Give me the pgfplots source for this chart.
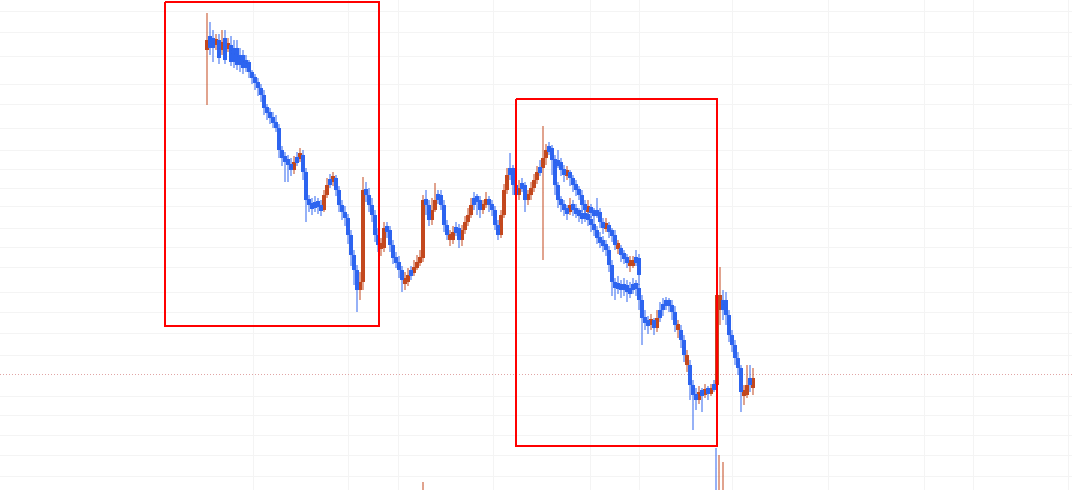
\documentclass[border=0pt]{standalone}
\usepackage{pgfplots}
\usepackage{pgfplotstable}
\pgfplotsset{compat=1.18}
\definecolor{cblue}{RGB}{45,100,240}
\definecolor{cred}{RGB}{195,72,30}
\definecolor{gridc}{RGB}{244,244,244}
\definecolor{dotc}{RGB}{225,165,165}

% candles: x, open, close, low-end (wick bottom), high-end (wick top); y in picture rows
\pgfplotstableread{
x o c l h
210 36 48 55 22
213 48 38 62 30
219 40 58 64 34
225 38 60 64 30
231 45 62 66 36
234 62 48 68 40
237 48 65 70 40
240 65 55 72 48
243 55 68 74 50
246 68 60 72 55
249 62 72 78 60
252 72 78 84 70
255 78 82 90 74
258 82 88 96 78
261 88 95 102 84
264 95 108 115 90
267 108 112 120 104
270 112 118 124 108
273 118 122 128 112
276 122 128 132 115
279 128 150 158 124
282 150 158 166 146
285 158 160 182 152
288 160 165 182 155
291 165 170 176 158
297 162 158 166 152
303 155 172 180 150
306 172 200 222 168
309 200 205 212 195
312 205 208 215 198
315 208 202 212 196
318 202 206 214 198
321 206 210 216 200
330 185 180 188 174
336 178 190 196 175
339 190 205 212 186
342 205 212 220 200
345 212 218 226 206
348 218 235 244 214
351 235 255 266 230
354 255 270 285 250
357 270 290 312 265
366 190 195 202 182
369 195 205 212 188
372 205 215 222 198
375 215 235 242 210
378 235 245 252 228
387 228 230 238 222
390 230 245 252 226
393 245 258 264 240
396 258 262 268 252
399 262 270 278 256
402 270 280 292 266
411 275 272 280 266
426 200 205 215 190
429 205 220 226 200
438 200 195 204 190
441 195 205 210 190
444 205 225 232 200
447 225 235 240 220
456 232 228 236 222
459 228 240 248 224
474 205 198 210 192
477 198 200 215 194
480 200 210 218 196
489 200 205 212 196
492 205 210 216 200
495 210 225 230 206
498 225 235 240 220
510 175 168 180 153
513 168 185 195 165
516 185 195 205 180
522 188 185 192 178
525 185 200 212 182
540 172 168 176 160
549 150 148 155 142
552 148 160 175 145
555 160 165 170 155
558 165 162 168 150
561 162 170 176 158
564 170 175 182 165
570 172 178 186 170
573 178 185 192 175
576 185 190 196 180
579 190 195 200 186
582 195 205 212 190
585 205 210 215 200
591 208 212 218 204
594 212 215 220 208
597 215 212 218 198
600 212 222 228 208
603 222 228 234 218
609 225 232 238 222
612 232 235 242 228
615 235 245 250 230
621 248 255 262 245
624 255 258 264 250
627 258 262 268 254
636 262 258 266 250
639 258 275 285 254
555 160 185 195 170
558 185 200 208 182
561 200 205 212 196
564 205 210 216 200
567 210 212 220 205
573 205 210 216 200
576 210 212 218 204
579 212 215 222 208
582 215 218 224 210
585 218 215 222 208
588 215 220 226 212
591 220 225 232 216
594 225 230 236 220
597 230 238 244 226
600 238 242 248 232
603 242 245 252 236
606 245 250 256 240
609 250 265 272 246
612 265 282 296 260
615 282 288 300 278
618 288 285 294 276
621 285 290 298 280
624 290 285 296 278
627 285 292 302 280
630 292 290 298 282
633 290 285 294 278
636 285 288 296 280
639 288 300 310 284
642 300 318 345 295
645 318 322 330 310
648 322 325 334 316
654 320 328 335 318
660 318 310 322 302
663 310 305 316 298
666 305 302 310 297
669 302 305 312 298
672 305 312 320 300
675 312 325 332 306
681 330 340 348 325
684 340 355 362 335
690 365 385 400 360
693 385 395 430 380
696 395 400 410 388
702 392 395 412 388
708 390 393 400 386
714 390 385 392 380
723 310 300 320 290
726 300 315 325 292
729 315 335 342 310
732 335 345 352 330
735 345 358 365 340
738 358 368 375 352
741 368 392 412 365
750 385 378 392 365
}\bluedata

\pgfplotstableread{
x o c l h
207 50 40 105 13
216 45 40 50 34
222 50 42 55 30
228 48 44 52 38
294 170 162 174 156
300 158 155 162 148
324 210 195 212 190
327 195 185 198 178
333 180 178 186 172
360 290 282 300 272
363 282 190 290 177
381 245 248 256 238
384 248 228 252 222
405 280 282 290 272
408 282 275 286 268
414 272 268 276 260
417 268 262 270 255
420 262 258 266 250
423 258 200 262 195
432 220 210 225 198
435 210 200 212 183
450 235 240 246 230
453 240 232 244 226
462 240 230 246 225
465 230 222 234 216
468 222 215 226 208
471 215 205 218 198
483 210 205 214 200
486 205 200 208 192
501 235 215 238 210
504 215 190 218 184
507 190 175 194 168
519 195 188 200 180
528 200 195 205 190
531 195 188 200 182
534 188 180 192 174
537 180 172 184 166
543 168 158 260 126
546 158 150 165 144
567 175 172 180 166
570 212 205 215 198
588 210 208 214 200
606 228 225 232 218
618 245 248 254 240
630 262 265 272 256
633 265 262 268 256
651 325 320 330 314
657 328 318 332 310
678 325 330 338 320
687 355 365 372 350
699 400 392 404 386
705 395 390 398 384
711 393 390 396 384
717 385 295 390 290
720 295 310 325 267
744 392 395 405 385
747 395 385 398 365
753 378 388 395 368
}\reddata

% volume bars: x, top row, base row
\pgfplotstableread{
x t b
423 482 490
719 455 490
723 462 490
}\redvol
\pgfplotstableread{
x t b
716 448 490
}\bluevol

\pgfplotsset{
  wick/.style={only marks, mark=none, mark size=0pt, mark options={draw=none, fill=none}, forget plot,
    error bars/.cd, y dir=both, y explicit, error mark=none,
    error bar style={line width=0.6pt, draw=#1, opacity=0.5}},
  body/.style={only marks, mark=none, mark size=0pt, mark options={draw=none, fill=none}, forget plot,
    error bars/.cd, y dir=both, y explicit, error mark=none,
    error bar style={line width=2.1pt, draw=#1}},
}

\begin{document}
\begin{tikzpicture}
\begin{axis}[
  scale only axis, width=536pt, height=245pt,
  xmin=0, xmax=1072, ymin=0, ymax=490, y dir=reverse,
  axis line style={draw=none},
  major tick length=0pt,
  xtick={253,348,398,493,590,639,732,828,924,973,1068},
  ytick={12,33,57,85,105,129,151,170,189,207,229,248,268,293,313,334,356,397,416,436,456,477},
  xticklabels={}, yticklabels={},
  grid=major, major grid style={draw=gridc, line width=0.5pt},
]
\addplot[dotc, densely dotted, line width=0.5pt, forget plot] coordinates {(0,375) (1072,375)};

\addplot[wick=cred] table[x=x, y expr={(\thisrow{t}+\thisrow{b})/2}, y error expr={(\thisrow{b}-\thisrow{t})/2}] {\redvol};
\addplot[wick=cblue] table[x=x, y expr={(\thisrow{t}+\thisrow{b})/2}, y error expr={(\thisrow{b}-\thisrow{t})/2}] {\bluevol};

\addplot[wick=cred] table[x=x, y expr={(\thisrow{l}+\thisrow{h})/2}, y error expr={(\thisrow{l}-\thisrow{h})/2}] {\reddata};
\addplot[wick=cblue] table[x=x, y expr={(\thisrow{l}+\thisrow{h})/2}, y error expr={(\thisrow{l}-\thisrow{h})/2}] {\bluedata};
\addplot[body=cred] table[x=x, y expr={(\thisrow{o}+\thisrow{c})/2}, y error expr={max(abs(\thisrow{o}-\thisrow{c})/2,3)}] {\reddata};
\addplot[body=cblue] table[x=x, y expr={(\thisrow{o}+\thisrow{c})/2}, y error expr={max(abs(\thisrow{o}-\thisrow{c})/2,3)}] {\bluedata};

\addplot[red, line width=1.25pt, line join=miter, forget plot] coordinates {(165,2) (379,2) (379,326) (165,326) (165,2)};
\addplot[red, line width=1.25pt, line join=miter, forget plot] coordinates {(516,99) (717,99) (717,446) (516,446) (516,99)};

\coordinate (ll) at (rel axis cs:0,0);
\coordinate (ur) at (rel axis cs:1,1);
\end{axis}
\pgfresetboundingbox
\useasboundingbox (ll) rectangle (ur);
\end{tikzpicture}
\end{document}
